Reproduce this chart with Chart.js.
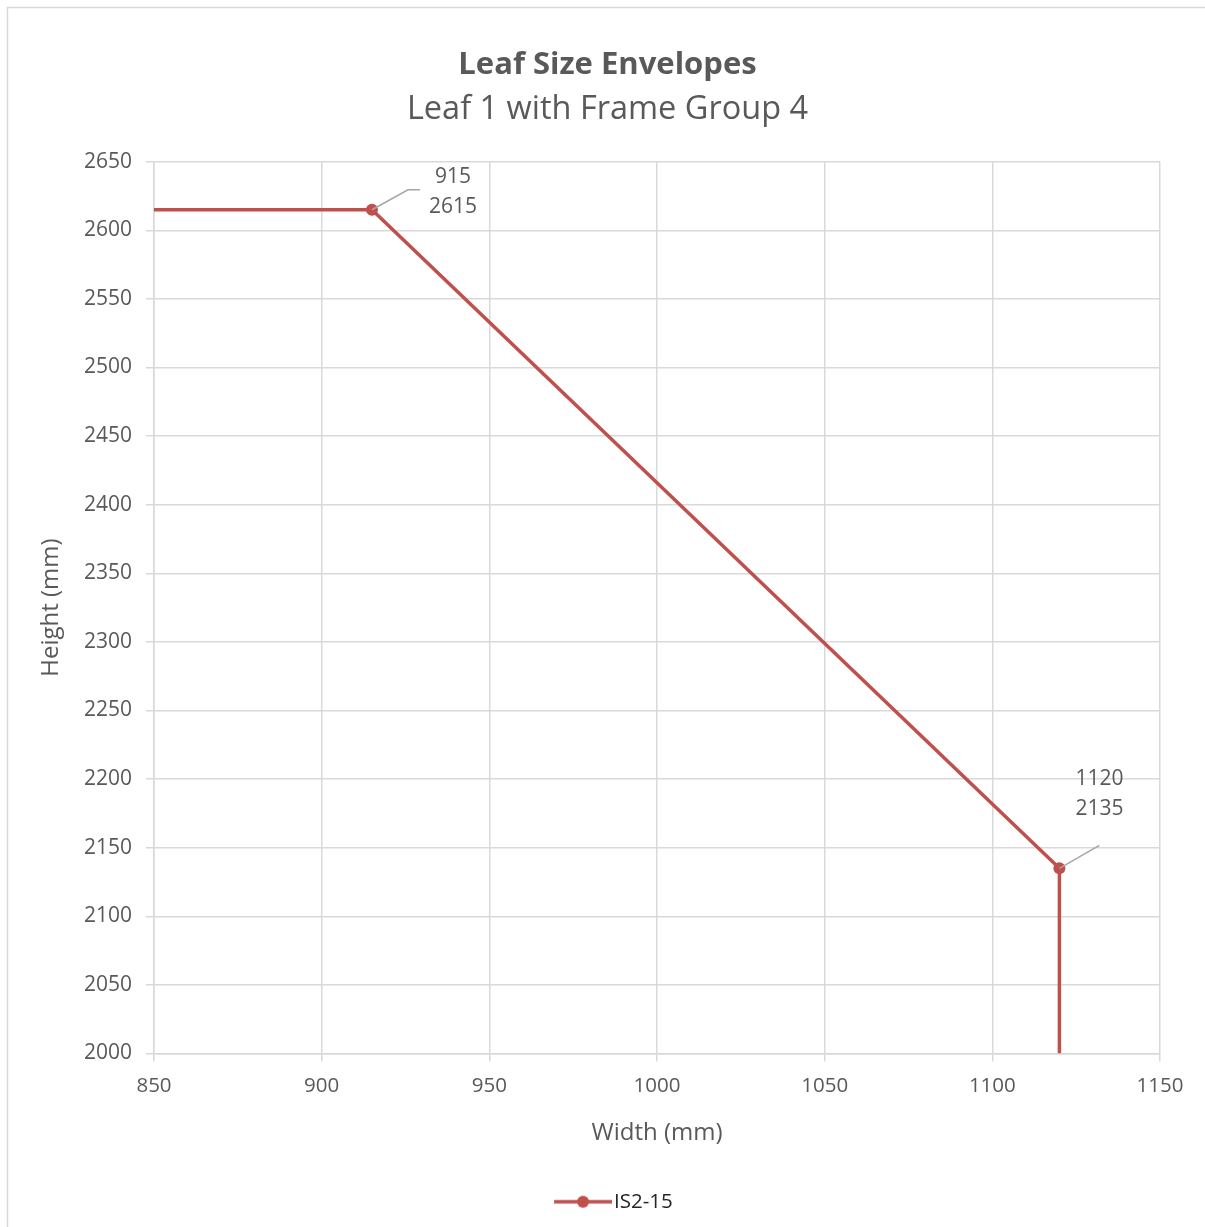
<!DOCTYPE html>
<html>
<head>
<meta charset="utf-8">
<title>Leaf Size Envelopes</title>
<script src="https://cdn.jsdelivr.net/npm/chart.js@4/dist/chart.umd.min.js"></script>
<style>
  html, body { margin: 0; padding: 0; background: #fff; }
  #wrap { width: 1205px; height: 1227px; }
</style>
</head>
<body>
<div id="wrap"><canvas id="envelope-chart" width="1205" height="1227"></canvas></div>
<script>
// Envelope outline for IS2-15 (width, height in mm)
const widths = [850, 915, 1120, 1120];
const heights = [2615, 2615, 2135, 2000];
// corner points that get a marker and a value label
const cornerIdx = [1, 2];

const xTicks = [850, 900, 950, 1000, 1050, 1100, 1150];
const yTicks = [2000, 2050, 2100, 2150, 2200, 2250, 2300, 2350, 2400, 2450, 2500, 2550, 2600, 2650];

const LINE_RED = "#c0504d";
const GRID = "#d9d9d9";
const TEXT = "#595959";
const FONT = "'Open Sans', 'Noto Sans', sans-serif";

const points = widths.map((w, i) => ({ x: w, y: heights[i] }));

// legend swatch: short line with a dot in the middle (blank strip on the left)
function legendSwatch() {
  const c = document.createElement("canvas");
  c.width = 78;
  c.height = 14;
  const g = c.getContext("2d");
  g.strokeStyle = LINE_RED;
  g.lineWidth = 3.5;
  g.beginPath();
  g.moveTo(20, 7);
  g.lineTo(78, 7);
  g.stroke();
  g.fillStyle = LINE_RED;
  g.beginPath();
  g.arc(49, 7, 6, 0, Math.PI * 2);
  g.fill();
  return c;
}

// outer chart frame
const framePlugin = {
  id: "frame",
  beforeDraw(chart) {
    const ctx = chart.ctx;
    ctx.save();
    ctx.strokeStyle = GRID;
    ctx.lineWidth = 1.5;
    ctx.strokeRect(7.5, 7.5, 1300, 1300);
    ctx.restore();
  },
};

// "x / y" labels with leader lines next to the corner points
const labelOffsets = {
  1: { tx: 81, ty: -33, leader: [[36, -20], [48, -20]] },
  2: { tx: 40, ty: -89, leader: [[40, -23]] },
};
const cornerLabels = {
  id: "cornerLabels",
  afterDatasetsDraw(chart) {
    const ctx = chart.ctx;
    const xs = chart.scales.x;
    const ys = chart.scales.y;
    ctx.save();
    cornerIdx.forEach((i) => {
      const px = xs.getPixelForValue(widths[i]);
      const py = ys.getPixelForValue(heights[i]);
      const o = labelOffsets[i];
      ctx.strokeStyle = "#a6a6a6";
      ctx.lineWidth = 1.5;
      ctx.beginPath();
      ctx.moveTo(px, py);
      o.leader.forEach(([dx, dy]) => ctx.lineTo(px + dx, py + dy));
      ctx.stroke();
      ctx.fillStyle = TEXT;
      ctx.font = `21px ${FONT}`;
      ctx.textAlign = "center";
      ctx.textBaseline = "middle";
      ctx.fillText(String(widths[i]), px + o.tx, py + o.ty);
      ctx.fillText(String(heights[i]), px + o.tx, py + o.ty + 30);
    });
    ctx.restore();
  },
};

new Chart(document.getElementById("envelope-chart"), {
  type: "scatter",
  data: {
    datasets: [
      {
        label: "IS2-15",
        data: points,
        showLine: true,
        borderColor: LINE_RED,
        backgroundColor: LINE_RED,
        borderWidth: 3.5,
        pointRadius: (c) => (cornerIdx.includes(c.dataIndex) ? 6 : 0),
        pointHoverRadius: 0,
        pointBorderWidth: 0,
      },
    ],
  },
  options: {
    responsive: false,
    animation: false,
    layout: { padding: { left: 10, right: 0, top: 0, bottom: 5 } },
    plugins: {
      title: {
        display: true,
        text: "Leaf Size Envelopes",
        color: TEXT,
        font: { family: FONT, size: 31, weight: "bold" },
        padding: { top: 47, bottom: 0 },
      },
      subtitle: {
        display: true,
        text: "Leaf 1 with Frame Group 4",
        color: TEXT,
        font: { family: FONT, size: 32.5 },
        padding: { top: 6, bottom: 32.5 },
      },
      legend: {
        position: "bottom",
        labels: {
          color: "#262626",
          font: { family: FONT, size: 20.5 },
          usePointStyle: true,
          pointStyleWidth: 61.5,
          generateLabels: (chart) => [
            {
              text: chart.data.datasets[0].label,
              pointStyle: legendSwatch(),
              fontColor: "#262626",
              datasetIndex: 0,
            },
          ],
        },
      },
      tooltip: { enabled: false },
    },
    scales: {
      x: {
        type: "linear",
        min: 850,
        max: 1150,
        afterBuildTicks: (s) => { s.ticks = xTicks.map((v) => ({ value: v })); },
        afterFit: (s) => { s.height = 128; },
        ticks: {
          color: TEXT,
          font: { family: FONT, size: 20.5 },
          padding: 12,
          callback: (v) => String(v),
        },
        grid: { color: GRID, lineWidth: 1.5, tickLength: 8, tickColor: GRID },
        border: { color: GRID, width: 1.5 },
        title: {
          display: true,
          text: "Width (mm)",
          color: TEXT,
          font: { family: FONT, size: 24 },
          padding: { top: 0, bottom: 33.5 },
        },
      },
      y: {
        type: "linear",
        min: 2000,
        max: 2650,
        afterBuildTicks: (s) => { s.ticks = yTicks.map((v) => ({ value: v })); },
        afterFit: (s) => { s.width = 144; },
        ticks: {
          color: TEXT,
          font: { family: FONT, size: 21 },
          padding: 14,
          callback: (v) => String(v),
        },
        grid: { color: GRID, lineWidth: 1.5, tickLength: 8, tickColor: GRID },
        border: { color: GRID, width: 1.5 },
        title: {
          display: true,
          text: "Height (mm)",
          color: TEXT,
          font: { family: FONT, size: 24 },
          padding: { top: 27, bottom: 0 },
        },
      },
      // empty right-hand margin so titles and legend stay centred on the frame
      yMargin: {
        type: "linear",
        position: "right",
        display: true,
        grid: { display: false },
        border: { display: false },
        ticks: { display: false },
        afterFit: (s) => { s.width = 45; },
      },
    },
  },
  plugins: [framePlugin, cornerLabels],
});
</script>
</body>
</html>
